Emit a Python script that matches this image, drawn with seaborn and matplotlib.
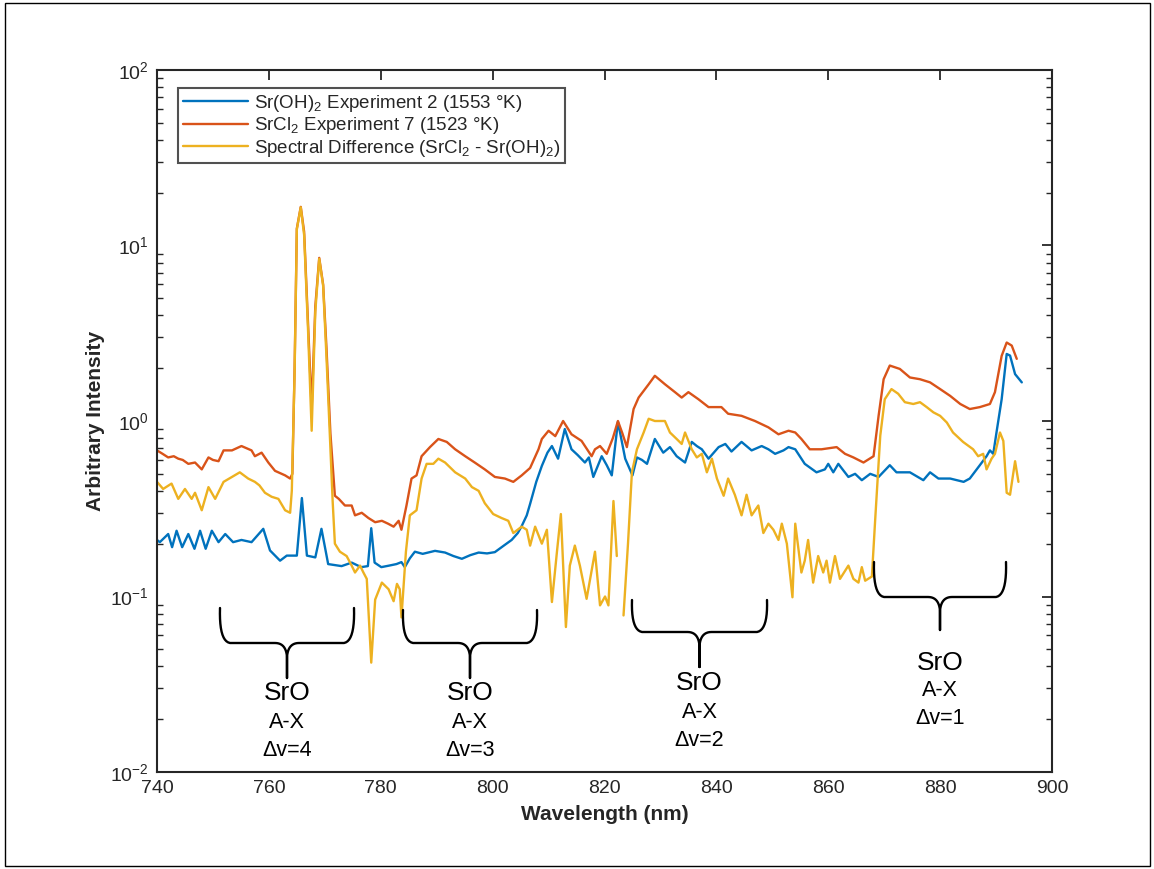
import numpy as np
import matplotlib
matplotlib.use("Agg")
import matplotlib.pyplot as plt
import seaborn as sns
from matplotlib.lines import Line2D
from matplotlib.patches import Rectangle

# ---------------- data ----------------
wl_blue = [740, 740.5, 742.0, 742.7, 743.5, 744.5, 745.6, 746.7, 747.7, 748.7, 749.8, 751, 752.2,
           753.6, 755.1, 756.9, 759, 760.2, 762, 763.2, 765, 765.9, 766.8, 768.3, 769.4, 770.6,
           773, 774.8, 776.5, 777.7, 778.3, 778.9, 780.1, 781.5, 782.8, 783.7, 784.3, 785.2,
           786.1, 787.5, 789.7, 791.5, 793, 794.5, 796, 797.5, 799, 800.4, 802, 803.4, 804.5,
           805.2, 806.1, 806.7, 807.8, 808.8, 809.8, 810.6, 811.7, 812.9, 814.1, 815.2, 816.5,
           817.2, 818.0, 819.5, 820.4, 821.3, 822.4, 823.7, 825, 825.8, 826.7, 827.6, 829,
           830.5, 831.7, 832.9, 834.4, 835.6, 836.5, 837.4, 838.6, 840.4, 841.6, 842.7, 844.5,
           846.3, 848.1, 849.3, 850.5, 852, 852.9, 854.1, 855.8, 857.9, 859.4, 860, 860.9,
           861.8, 863.6, 864.8, 866, 867.5, 869, 871, 872.2, 874.6, 877, 878.2, 879.7, 881.8,
           884.2, 885.3, 887.1, 888.3, 888.9, 889.5, 890.1, 891, 891.9, 892.5, 893.4, 894.6]
blue = [0.21, 0.204, 0.227, 0.191, 0.237, 0.191, 0.227, 0.187, 0.237, 0.187, 0.237, 0.204, 0.227,
        0.204, 0.21, 0.204, 0.243, 0.183, 0.16, 0.171, 0.171, 0.364, 0.171, 0.167, 0.243, 0.153,
        0.149, 0.156, 0.147, 0.149, 0.245, 0.156, 0.147, 0.15, 0.153, 0.157, 0.147, 0.165,
        0.18, 0.175, 0.182, 0.178, 0.17, 0.164, 0.172, 0.178, 0.176, 0.179, 0.195, 0.21, 0.23,
        0.252, 0.29, 0.337, 0.45, 0.555, 0.66, 0.72, 0.61, 0.90, 0.69, 0.64, 0.58,
        0.62, 0.48, 0.63, 0.56, 0.49, 0.99, 0.61, 0.49, 0.62, 0.60, 0.57, 0.79,
        0.66, 0.71, 0.63, 0.58, 0.76, 0.72, 0.69, 0.61, 0.71, 0.74, 0.67, 0.76,
        0.68, 0.72, 0.69, 0.65, 0.68, 0.71, 0.69, 0.57, 0.51, 0.53, 0.57, 0.51,
        0.57, 0.48, 0.50, 0.46, 0.50, 0.48, 0.56, 0.51, 0.51, 0.46, 0.51, 0.47, 0.47,
        0.45, 0.47, 0.56, 0.63, 0.68, 0.65, 0.87, 1.33, 2.41, 2.36, 1.85, 1.66]

wl_red = [740, 741, 742, 743, 743.8, 744.6, 745.6, 746.8, 748, 749.2, 750, 751, 751.9, 753.4,
          755.1, 756.9, 757.5, 758.7, 759.9, 761.1, 762.9, 763.8, 764.2, 764.6, 765.0, 765.7,
          766.3, 767.0, 767.65, 768.3, 769.0, 769.7, 770.3, 771.0, 771.8, 772.5, 773.6, 774.8,
          775.4, 776.6, 777.8, 779, 780.2, 781.3, 782.3, 783.2, 783.7, 784.6, 785.5, 786.4,
          787.3, 788.8, 790.3, 791.8, 793.3, 795.1, 796.8, 798.6, 800.4, 802.2, 803.7, 805.2,
          806.7, 808.2, 808.8, 810, 811.2, 812.6, 814.1, 815.9, 817.7, 818.3, 819.2, 820.4,
          821.5, 822.4, 823.2, 824, 825.2, 826.1, 827.9, 829, 830.8, 832.6, 833.8, 835, 836.8,
          838.6, 840.9, 842.1, 844.5, 846.9, 849.3, 851.1, 852.9, 854.1, 855.2, 856.7, 858.8,
          861.5, 863, 864.5, 866.3, 868.1, 869, 869.9, 871, 872.8, 874.6, 876.4, 878.2, 880,
          881.8, 883.6, 885.3, 887.1, 888.9, 889.8, 891, 891.9, 892.8, 893.7]
red = [0.68, 0.65, 0.62, 0.63, 0.61, 0.60, 0.57, 0.58, 0.53, 0.62, 0.60, 0.59, 0.68, 0.68,
       0.72, 0.68, 0.63, 0.66, 0.58, 0.52, 0.49, 0.47, 0.50, 2.0, 12.5, 16.6,
       12.0, 3.6, 1.17, 4.5, 8.5, 6.0, 2.6, 0.85, 0.375, 0.36, 0.33, 0.33,
       0.29, 0.30, 0.28, 0.265, 0.27, 0.26, 0.25, 0.27, 0.24, 0.33, 0.47, 0.49,
       0.63, 0.71, 0.79, 0.76, 0.69, 0.63, 0.58, 0.53, 0.48, 0.47, 0.45, 0.49,
       0.54, 0.69, 0.79, 0.88, 0.82, 1.0, 0.84, 0.77, 0.63, 0.69, 0.72, 0.65,
       0.80, 1.0, 0.85, 0.71, 1.17, 1.36, 1.62, 1.81, 1.62, 1.46, 1.36, 1.46, 1.33,
       1.2, 1.2, 1.1, 1.07, 1.0, 0.92, 0.84, 0.88, 0.86, 0.79, 0.69, 0.69,
       0.71, 0.65, 0.62, 0.58, 0.63, 1.07, 1.73, 2.07, 1.98, 1.77, 1.73, 1.66, 1.52,
       1.39, 1.25, 1.17, 1.2, 1.25, 1.46, 2.35, 2.8, 2.69, 2.26]

# difference: first segment (740-822.2 nm), second segment (823.4-894 nm)
wl_diff_a = [740, 741.1, 742.6, 743.8, 745, 746.2, 746.8, 748, 749.2, 750.4, 751.9, 753.4, 754.8,
             756.3, 757.5, 758.3, 759.3, 760.5, 761.7, 762.9, 763.8, 764.1, 764.6, 765.0, 765.7,
             766.3, 767.0, 767.65, 768.3, 769.0, 769.7, 770.3, 771.0, 771.4, 771.8, 772.7, 773.9,
             774.8, 775.4, 776.3, 776.9, 777.5, 778.3, 779, 780.2, 781.4, 782.3, 782.9, 783.4,
             783.7, 784.5, 785.2, 786.4, 787.3, 788.2, 789.4, 790.3, 791.5, 793.3, 795.1, 796.3,
             797.5, 798.6, 800.1, 801.6, 802.8, 803.7, 805.2, 806.1, 806.7, 807.6, 808.8, 809.7,
             810.6, 811.5, 812.2, 813.1, 813.8, 814.7, 815.6, 816.8, 818.3, 819.2, 820.1, 820.7,
             821.6, 822.2]
diff_a = [0.45, 0.41, 0.44, 0.36, 0.41, 0.36, 0.39, 0.31, 0.42, 0.36, 0.45, 0.48, 0.51,
          0.47, 0.45, 0.43, 0.39, 0.37, 0.36, 0.31, 0.30, 0.40, 1.9, 12.4, 16.5,
          11.5, 3.3, 0.88, 4.2, 8.4, 5.9, 2.3, 0.7, 0.35, 0.20, 0.18, 0.17,
          0.15, 0.137, 0.15, 0.137, 0.126, 0.042, 0.096, 0.12, 0.11, 0.094, 0.118, 0.11,
          0.076, 0.18, 0.29, 0.31, 0.47, 0.57, 0.57, 0.61, 0.58, 0.51, 0.47, 0.42,
          0.40, 0.34, 0.295, 0.28, 0.27, 0.23, 0.25, 0.24, 0.195, 0.25, 0.20, 0.24,
          0.093, 0.18, 0.295, 0.067, 0.15, 0.195, 0.15, 0.097, 0.18, 0.089, 0.10, 0.089,
          0.35, 0.17]
wl_diff_b = [823.4, 824.2, 824.9, 825.8, 827, 827.9, 829, 830.2, 830.8, 831.7, 832.9, 833.8, 834.4,
             835.6, 836.5, 837.4, 838.3, 839.2, 840.1, 841.3, 842.1, 843.3, 844.5, 845.4, 846.3,
             847.5, 848.4, 849.3, 850.2, 851.1, 851.7, 852.6, 853.6, 854.1, 855.2, 855.8, 856.4,
             857.3, 858.2, 859.1, 859.7, 860.3, 861.2, 862.1, 863.6, 864.5, 865.4, 866, 866.6,
             867.8, 868.4, 869.3, 870.1, 871.3, 872.5, 873.7, 875.2, 876.4, 877.6, 878.8, 880,
             881.2, 882.3, 884.1, 885.9, 886.8, 887.7, 888.3, 889.2, 889.8, 890.7, 891.3, 891.9,
             892.5, 893.4, 894]
diff_b = [0.078, 0.2, 0.51, 0.69, 0.86, 1.03, 1.0, 1.0, 1.0, 0.86, 0.79, 0.74, 0.86,
          0.69, 0.62, 0.65, 0.51, 0.61, 0.47, 0.375, 0.47, 0.38, 0.29, 0.38, 0.29,
          0.33, 0.23, 0.26, 0.24, 0.21, 0.26, 0.20, 0.099, 0.26, 0.137, 0.16, 0.21,
          0.12, 0.17, 0.137, 0.16, 0.12, 0.17, 0.126, 0.15, 0.126, 0.12, 0.147, 0.123,
          0.13, 0.277, 0.825, 1.33, 1.52, 1.43, 1.28, 1.25, 1.28, 1.2, 1.12, 1.07,
          0.98, 0.86, 0.76, 0.69, 0.63, 0.65, 0.53, 0.61, 0.65, 0.86, 0.77, 0.39,
          0.38, 0.59, 0.45]

labels = [r"Sr(OH)$_2$ Experiment 2 (1553 °K)",
          r"SrCl$_2$ Experiment 7 (1523 °K)",
          r"Spectral Difference (SrCl$_2$ - Sr(OH)$_2$)"]
colors = ["#0072BD", "#D95319", "#EDB120"]

xticks = [740, 760, 780, 800, 820, 840, 860, 880, 900]

band_texts = [("SrO", "A-X", "Δv=4"), ("SrO", "A-X", "Δv=3"),
              ("SrO", "A-X", "Δv=2"), ("SrO", "A-X", "Δv=1")]

# ---------------- style ----------------
sns.set_theme(style="white")
plt.rcParams["font.family"] = ["Liberation Sans", "DejaVu Sans"]
plt.rcParams["mathtext.fontset"] = "custom"
plt.rcParams["mathtext.rm"] = "Liberation Sans"
plt.rcParams["mathtext.it"] = "Liberation Sans:italic"
plt.rcParams["mathtext.bf"] = "Liberation Sans:bold"

fig = plt.figure(figsize=(11.54, 8.69), dpi=100)
W, H = 1154, 869
AX_L, AX_R, AX_T, AX_B = 157, 1052, 70, 772
ax = fig.add_axes([AX_L / W, 1 - AX_B / H, (AX_R - AX_L) / W, (AX_B - AX_T) / H])

lw = 1.7
sns.lineplot(x=wl_blue, y=blue, ax=ax, color=colors[0], linewidth=lw, estimator=None, sort=False)
sns.lineplot(x=wl_red, y=red, ax=ax, color=colors[1], linewidth=lw, estimator=None, sort=False)
sns.lineplot(x=wl_diff_a, y=diff_a, ax=ax, color=colors[2], linewidth=lw, estimator=None, sort=False)
sns.lineplot(x=wl_diff_b, y=diff_b, ax=ax, color=colors[2], linewidth=lw, estimator=None, sort=False)

ax.set_yscale("log")
ax.set_xlim(740, 900)
ax.set_ylim(1e-2, 1e2)
ax.set_xticks(xticks)
ax.set_xticklabels([str(t) for t in xticks])

edge = "#262626"
for s in ax.spines.values():
    s.set_visible(True)
    s.set_color(edge)
    s.set_linewidth(1.5)
ax.tick_params(axis="both", which="both", direction="in", top=True, right=True,
               color=edge, labelcolor="#262626", labelsize=14)
ax.tick_params(axis="both", which="major", length=7, width=1.3, pad=6)
ax.tick_params(axis="y", which="minor", length=4, width=1.0, left=True, right=True)

ax.set_xlabel("Wavelength (nm)", fontsize=15, fontweight="bold", color="#262626")
ax.set_ylabel("Arbitrary Intensity", fontsize=15, fontweight="bold", color="#262626")
ax.xaxis.set_label_coords(0.5, -0.047)
ax.yaxis.set_label_coords(-0.058, 0.5)

handles = [Line2D([0], [0], color=c, lw=lw) for c in colors]
leg = ax.legend(handles, labels, loc="upper left",
                bbox_to_anchor=((178 - AX_L) / (AX_R - AX_L), (AX_B - 88) / (AX_B - AX_T)),
                fontsize=13.5, frameon=True, fancybox=False, edgecolor=edge,
                handlelength=3.5, handletextpad=0.3, labelspacing=0.08,
                borderpad=0.25, borderaxespad=0.0)
leg.get_frame().set_linewidth(1.5)

# ---------------- braces and band annotations ----------------
def px2ax(px, py):
    return ((px - AX_L) / (AX_R - AX_L), (AX_B - py) / (AX_B - AX_T))

def qbez(p0, p1, p2, n=12):
    t = np.linspace(0, 1, n)[:, None]
    p0, p1, p2 = map(np.array, (p0, p1, p2))
    return (1 - t) ** 2 * p0 + 2 * (1 - t) * t * p1 + t ** 2 * p2

def brace(L, R, T, Hh, P):
    C = (L + R) / 2.0
    left_arm = qbez((L, T), (L - 1, Hh - 2), (L + 10, Hh))
    left_mid = qbez((C - 12, Hh), (C - 1, Hh), (C, Hh + 14))
    right_mid = qbez((C, Hh + 14), (C + 1, Hh), (C + 12, Hh))
    right_arm = qbez((R - 10, Hh), (R + 1, Hh - 2), (R, T))
    stem = np.array([[C, Hh + 14], [C, P]])
    pts = np.vstack([left_arm, left_mid, stem, stem[::-1], right_mid, right_arm])
    a = np.array([px2ax(x, y) for x, y in pts])
    ax.plot(a[:, 0], a[:, 1], color="black", lw=1.7, transform=ax.transAxes,
            solid_joinstyle="round", solid_capstyle="round", clip_on=False)

braces = [(220, 354, 608, 643, 678), (403, 537, 610, 643, 678),
          (632, 767, 600, 632, 667), (874, 1006, 562, 597, 630)]
text_y = [(693, 722, 750), (693, 722, 750), (683, 712, 740), (663, 691, 719)]
for (L, R, T, Hh, P), (y1, y2, y3), (t1, t2, t3) in zip(braces, text_y, band_texts):
    brace(L, R, T, Hh, P)
    C = (L + R) / 2.0
    ax.text(*px2ax(C, y1), t1, transform=ax.transAxes, ha="center", va="center",
            fontsize=19, color="black")
    ax.text(*px2ax(C, y2), t2, transform=ax.transAxes, ha="center", va="center",
            fontsize=15.5, color="black")
    ax.text(*px2ax(C, y3), t3, transform=ax.transAxes, ha="center", va="center",
            fontsize=15.5, color="black")

# thin frame around the whole picture (slide border)
fig.patches.append(Rectangle((5 / W, 1 - 866 / H), (1150 - 5) / W, (866 - 3) / H,
                             transform=fig.transFigure, fill=False, edgecolor="black",
                             linewidth=1.0))

fig.savefig("out.png", dpi=100, facecolor="white")
